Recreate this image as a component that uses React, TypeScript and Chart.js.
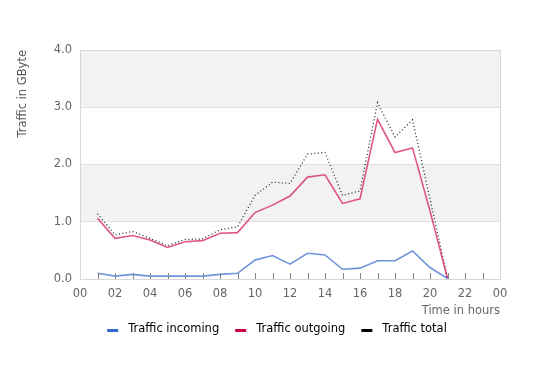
import React, { useEffect, useRef } from "react";
import { Chart, registerables } from "chart.js";

Chart.register(...registerables);

const hours = [1, 2, 3, 4, 5, 6, 7, 8, 9, 10, 11, 12, 13, 14, 15, 16, 17, 18, 19, 20, 21];
const incoming = [0.1, 0.05, 0.08, 0.05, 0.05, 0.05, 0.05, 0.08, 0.1, 0.33, 0.41, 0.26, 0.45, 0.42, 0.17, 0.19, 0.32, 0.32, 0.49, 0.2, 0.01];
const outgoing = [1.06, 0.71, 0.76, 0.68, 0.55, 0.65, 0.67, 0.8, 0.81, 1.16, 1.29, 1.45, 1.78, 1.82, 1.32, 1.4, 2.79, 2.21, 2.29, 1.19, 0.01];
const total = [1.14, 0.77, 0.83, 0.71, 0.58, 0.69, 0.7, 0.86, 0.91, 1.46, 1.69, 1.67, 2.18, 2.21, 1.46, 1.54, 3.08, 2.48, 2.78, 1.4, 0.01];
const seriesNames = ["Traffic incoming", "Traffic outgoing", "Traffic total"];
const legendColors = ["#3366cc", "#cc0044", "#000000"];
const yTicks = [0, 1, 2, 3, 4];
const hourMarks = [1, 2, 3, 4, 5, 6, 7, 8, 9, 10, 11, 12, 13, 14, 15, 16, 17, 18, 19, 20, 21, 22, 23];

const FONT = "'DejaVu Sans', Verdana, sans-serif";
const FS = 11.5;

const framePlugin = {
  id: "frame",
  beforeDraw(chart: any) {
    const { ctx, chartArea, scales } = chart;
    const y = scales.y;
    ctx.save();
    ctx.fillStyle = "#f2f2f2";
    for (let i = 0; i < yTicks.length - 1; i++) {
      if (i % 2 === 1) {
        const top = y.getPixelForValue(yTicks[i + 1]);
        const bot = y.getPixelForValue(yTicks[i]);
        ctx.fillRect(chartArea.left, top, chartArea.right - chartArea.left, bot - top);
      }
    }
    ctx.restore();
  },
  afterDraw(chart: any) {
    const { ctx, chartArea, scales } = chart;
    const x = scales.x;
    ctx.save();
    ctx.strokeStyle = "#d8d8d8";
    ctx.lineWidth = 1;
    ctx.strokeRect(
      Math.round(chartArea.left) + 0.5,
      Math.round(chartArea.top) + 0.5,
      Math.round(chartArea.right - chartArea.left),
      Math.round(chartArea.bottom - chartArea.top)
    );
    ctx.strokeStyle = "#888888";
    ctx.beginPath();
    for (const h of hourMarks) {
      const px = Math.round(x.getPixelForValue(h)) + 0.5;
      ctx.moveTo(px, chartArea.bottom);
      ctx.lineTo(px, chartArea.bottom - 6);
    }
    ctx.stroke();

    // legend
    const boxW = 11;
    const gap = 10;
    const spacing = 16;
    ctx.font = `${FS}px ${FONT}`;
    const widths = seriesNames.map((n) => ctx.measureText(n).width);
    const totalW = widths.reduce((a, w) => a + boxW + gap + w, 0) + spacing * (seriesNames.length - 1);
    let lx = chart.width / 2 - totalW / 2 + 2;
    const ly = 329;
    ctx.textBaseline = "middle";
    ctx.textAlign = "left";
    seriesNames.forEach((n, i) => {
      ctx.fillStyle = legendColors[i];
      ctx.fillRect(lx, ly, boxW, 3);
      ctx.fillStyle = "#000";
      ctx.fillText(n, lx + boxW + gap, ly);
      lx += boxW + gap + widths[i] + spacing;
    });
    ctx.restore();
  },
};

export default function App() {
  const ref = useRef<HTMLCanvasElement>(null);
  useEffect(() => {
    document.body.style.margin = "0";
    const toPts = (arr: number[]) => hours.map((h, i) => ({ x: h, y: arr[i] }));
    const chart = new Chart(ref.current!, {
      type: "line",
      data: {
        datasets: [
          {
            label: seriesNames[0],
            data: toPts(incoming),
            borderColor: "rgba(51,102,204,0.7)",
            backgroundColor: legendColors[0],
            borderWidth: 1.6,
            pointRadius: 0,
            tension: 0,
          },
          {
            label: seriesNames[1],
            data: toPts(outgoing),
            borderColor: "rgba(214,30,95,0.75)",
            backgroundColor: legendColors[1],
            borderWidth: 1.6,
            pointRadius: 0,
            tension: 0,
          },
          {
            label: seriesNames[2],
            data: toPts(total),
            borderColor: "rgba(0,0,0,0.85)",
            backgroundColor: legendColors[2],
            borderWidth: 1.3,
            borderDash: [1, 2.5],
            pointRadius: 0,
            tension: 0,
          },
        ],
      },
      options: {
        animation: false,
        responsive: false,
        layout: { padding: { top: 50, right: 50, left: 0, bottom: 52 } },
        plugins: {
          tooltip: { enabled: false },
          legend: { display: false },
        },
        scales: {
          x: {
            type: "linear",
            min: 0,
            max: 24,
            grid: { display: false, drawTicks: false },
            border: { display: false },
            ticks: {
              stepSize: 2,
              padding: 8,
              autoSkip: false,
              maxRotation: 0,
              color: "#666",
              font: { family: FONT, size: FS },
              callback: (v: any) => String(Number(v) % 24).padStart(2, "0"),
            },
            title: {
              display: true,
              text: "Time in hours",
              align: "end",
              color: "#666",
              font: { family: FONT, size: FS },
              padding: { top: 0, bottom: 0 },
            },
            afterFit: (s: any) => {
              s.height = 39;
            },
          },
          y: {
            min: 0,
            max: 4,
            grid: { color: "#e0e0e0", drawTicks: false },
            border: { display: false },
            ticks: {
              stepSize: 1,
              padding: 8,
              color: "#666",
              font: { family: FONT, size: FS },
              callback: (v: any) => Number(v).toFixed(1),
            },
            title: {
              display: true,
              text: "Traffic in GByte",
              align: "end",
              color: "#555",
              font: { family: FONT, size: FS },
              padding: { top: 16, bottom: 0 },
            },
            afterFit: (s: any) => {
              s.width = 80;
            },
          },
        },
      },
      plugins: [framePlugin],
    } as any);
    return () => chart.destroy();
  }, []);
  return (
    <div style={{ width: 550, height: 370 }}>
      <canvas ref={ref} width={550} height={370} style={{ display: "block" }} />
    </div>
  );
}
